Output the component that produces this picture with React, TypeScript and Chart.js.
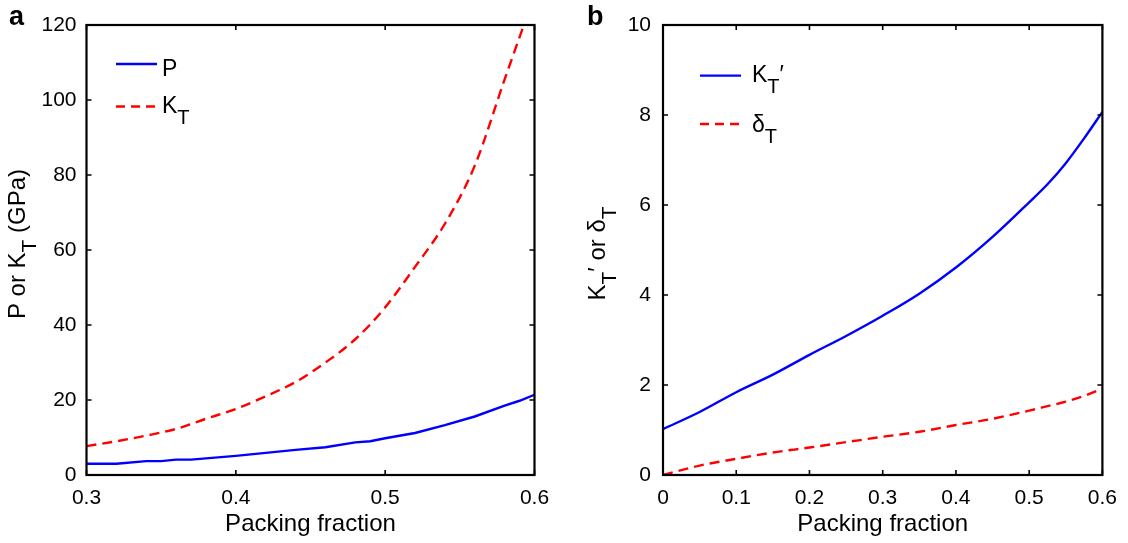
import React, { useEffect, useRef } from "react";
import { Chart, registerables } from "chart.js";

Chart.register(...registerables);

const FONT = "'Liberation Sans', Arial, Helvetica, sans-serif";

// ---------- Panel a data ----------
const packingP = [0.3, 0.32, 0.34, 0.35, 0.36, 0.37, 0.4, 0.42, 0.44, 0.46, 0.48, 0.49, 0.5, 0.52, 0.54, 0.56, 0.58, 0.59, 0.6];
const pressureP = [3.0, 3.0, 3.7, 3.7, 4.1, 4.1, 5.1, 5.9, 6.7, 7.4, 8.7, 9.0, 9.8, 11.2, 13.3, 15.6, 18.5, 19.8, 21.4];
const packingK = [0.3, 0.32, 0.34, 0.36, 0.38, 0.4, 0.42, 0.44, 0.46, 0.48, 0.5, 0.52, 0.54, 0.56, 0.58, 0.6];
const bulkKT = [7.7, 9.0, 10.5, 12.3, 15.0, 17.6, 21.0, 24.8, 30.0, 36.2, 44.7, 55.5, 67.0, 82.5, 105.5, 128];

// ---------- Panel b data ----------
const packingB = [0, 0.05, 0.1, 0.15, 0.2, 0.25, 0.3, 0.35, 0.4, 0.45, 0.5, 0.525, 0.55, 0.575, 0.6];
const kPrime = [1.02, 1.4, 1.84, 2.23, 2.67, 3.09, 3.54, 4.03, 4.61, 5.29, 6.06, 6.46, 6.93, 7.48, 8.07];
const deltaT = [0, 0.21, 0.36, 0.5, 0.61, 0.73, 0.85, 0.96, 1.11, 1.25, 1.43, 1.53, 1.63, 1.76, 1.92];

type Part = { t: string; sub?: boolean };

const legendA: { parts: Part[]; color: string; dash: number[] }[] = [
  { parts: [{ t: "P" }], color: "#0000ff", dash: [] },
  { parts: [{ t: "K" }, { t: "T", sub: true }], color: "#ff0000", dash: [9, 6] },
];
const legendB: { parts: Part[]; color: string; dash: number[] }[] = [
  { parts: [{ t: "K" }, { t: "T", sub: true }, { t: "\u2032" }], color: "#0000ff", dash: [] },
  { parts: [{ t: "\u03b4" }, { t: "T", sub: true }], color: "#ff0000", dash: [9, 6] },
];
const yTitleA: Part[] = [{ t: "P or K" }, { t: "T", sub: true }, { t: " (GPa)" }];
const yTitleB: Part[] = [{ t: "K" }, { t: "T", sub: true }, { t: "\u2032 or \u03b4" }, { t: "T", sub: true }];

const MAIN = 23;
const SUB = 20;
const SUBOFF = 11;

function richWidth(ctx: CanvasRenderingContext2D, parts: Part[], size: number, sub: number) {
  let w = 0;
  for (const p of parts) {
    ctx.font = `${p.sub ? sub : size}px ${FONT}`;
    w += ctx.measureText(p.t).width;
  }
  return w;
}

function drawRich(ctx: CanvasRenderingContext2D, parts: Part[], x: number, y: number, size: number, sub: number, off: number) {
  let cx = x;
  ctx.textBaseline = "alphabetic";
  ctx.textAlign = "left";
  for (const p of parts) {
    ctx.font = `${p.sub ? sub : size}px ${FONT}`;
    ctx.fillText(p.t, cx, p.sub ? y + off : y);
    cx += ctx.measureText(p.t).width;
  }
}

const decorPlugin = {
  id: "decor",
  afterDraw(chart: any, _args: any, o: any) {
    const ctx: CanvasRenderingContext2D = chart.ctx;
    const a = chart.chartArea;
    const ox = o.ox;
    ctx.save();
    ctx.strokeStyle = "#000";
    ctx.lineWidth = 2.2;
    ctx.setLineDash([]);
    ctx.strokeRect(a.left, a.top, a.right - a.left, a.bottom - a.top);
    const xs = chart.scales.x;
    const ys = chart.scales.y;
    const L = 5;
    ctx.lineWidth = 1.6;
    ctx.beginPath();
    xs.ticks.forEach((t: any) => {
      const px = xs.getPixelForValue(t.value);
      ctx.moveTo(px, a.bottom);
      ctx.lineTo(px, a.bottom - L);
      ctx.moveTo(px, a.top);
      ctx.lineTo(px, a.top + L);
    });
    ys.ticks.forEach((t: any) => {
      const py = ys.getPixelForValue(t.value);
      ctx.moveTo(a.left, py);
      ctx.lineTo(a.left + L, py);
      ctx.moveTo(a.right, py);
      ctx.lineTo(a.right - L, py);
    });
    ctx.stroke();

    // legend
    ctx.fillStyle = "#000";
    o.legend.forEach((e: any, i: number) => {
      const ly = o.legendY[i];
      ctx.strokeStyle = e.color;
      ctx.lineWidth = 2.3;
      ctx.setLineDash(e.dash);
      ctx.beginPath();
      ctx.moveTo(o.legendX1 - ox, ly);
      ctx.lineTo(o.legendX2 - ox, ly);
      ctx.stroke();
      ctx.setLineDash([]);
      drawRich(ctx, e.parts, o.legendTextX - ox, o.legendBase[i], MAIN, SUB, SUBOFF);
    });

    // y title (rotated)
    const w = richWidth(ctx, o.yTitle, 24, 21);
    ctx.save();
    ctx.translate(o.yTitleX - ox, o.yTitleY);
    ctx.rotate(-Math.PI / 2);
    drawRich(ctx, o.yTitle, -w / 2, 0, 24, 21, 11);
    ctx.restore();

    // panel letter
    ctx.font = `bold 27px ${FONT}`;
    ctx.textBaseline = "alphabetic";
    ctx.textAlign = "left";
    ctx.fillText(o.letter, o.letterX - ox, 25);
    ctx.restore();
  },
};

type PanelProps = {
  ox: number;
  width: number;
  area: { left: number; right: number; top: number; bottom: number };
  xMin: number;
  xMax: number;
  yMax: number;
  yStep: number;
  yPad: number;
  datasets: any[];
  decor: any;
};

function Panel(p: PanelProps) {
  const ref = useRef<HTMLCanvasElement | null>(null);
  useEffect(() => {
    if (!ref.current) return;
    const H = 543;
    const chart = new Chart(ref.current, {
      type: "line",
      data: { datasets: p.datasets },
      plugins: [decorPlugin],
      options: {
        animation: false,
        responsive: false,
        layout: {
          padding: { left: 0, top: p.area.top, right: p.width - (p.area.right - p.ox), bottom: 0 },
        },
        plugins: {
          legend: { display: false },
          tooltip: { enabled: false },
          decor: p.decor,
        } as any,
        elements: { point: { radius: 0 } },
        scales: {
          x: {
            type: "linear",
            min: p.xMin,
            max: p.xMax,
            grid: { display: false, drawTicks: false },
            border: { display: false },
            ticks: {
              stepSize: 0.1,
              autoSkip: false,
              maxRotation: 0,
              padding: 11,
              color: "#000",
              font: { size: 21, family: FONT },
              callback: (v: any) => String(Math.round(Number(v) * 10) / 10),
            },
            title: {
              display: true,
              text: "Packing fraction",
              color: "#000",
              font: { size: 24, family: FONT },
              padding: { top: 0, bottom: 4 },
            },
            afterFit: (s: any) => {
              s.height = H - p.area.bottom;
            },
          },
          y: {
            type: "linear",
            min: 0,
            max: p.yMax,
            grid: { display: false, drawTicks: false },
            border: { display: false },
            ticks: {
              stepSize: p.yStep,
              autoSkip: false,
              padding: p.yPad,
              color: "#000",
              font: { size: 21, family: FONT },
            },
            afterFit: (s: any) => {
              s.width = p.area.left - p.ox;
            },
          },
        },
      } as any,
    });
    return () => chart.destroy();
  }, []);
  return (
    <canvas
      ref={ref}
      width={p.width}
      height={543}
      style={{ position: "absolute", left: p.ox, top: 0, width: p.width, height: 543 }}
    />
  );
}

const toPts = (xs: number[], ys: number[]) => xs.map((x, i) => ({ x, y: ys[i] }));

export default function App() {
  const dsA = [
    {
      label: "P",
      data: toPts(packingP, pressureP),
      borderColor: "#0000ff",
      borderWidth: 2.4,
      tension: 0,
      pointRadius: 0,
    },
    {
      label: "K_T",
      data: toPts(packingK, bulkKT),
      borderColor: "#ff0000",
      borderWidth: 2.4,
      borderDash: [10, 6],
      cubicInterpolationMode: "monotone",
      pointRadius: 0,
    },
  ];
  const dsB = [
    {
      label: "K_T'",
      data: toPts(packingB, kPrime),
      borderColor: "#0000ff",
      borderWidth: 2.4,
      cubicInterpolationMode: "monotone",
      pointRadius: 0,
    },
    {
      label: "delta_T",
      data: toPts(packingB, deltaT),
      borderColor: "#ff0000",
      borderWidth: 2.4,
      borderDash: [10, 6],
      cubicInterpolationMode: "monotone",
      pointRadius: 0,
    },
  ];
  return (
    <div style={{ position: "fixed", left: 0, top: 0, width: 1128, height: 543, background: "#fff" }}>
      <Panel
        ox={0}
        width={564}
        area={{ left: 86.5, right: 534.5, top: 25, bottom: 475 }}
        xMin={0.3}
        xMax={0.6}
        yMax={120}
        yStep={20}
        yPad={10}
        datasets={dsA}
        decor={{
          ox: 0,
          legend: legendA,
          legendX1: 116,
          legendX2: 157,
          legendY: [64, 106.5],
          legendTextX: 162,
          legendBase: [76, 113.3],
          yTitle: yTitleA,
          yTitleX: 25,
          yTitleY: 244,
          letter: "a",
          letterX: 9,
        }}
      />
      <Panel
        ox={564}
        width={564}
        area={{ left: 663, right: 1112.5, top: 25, bottom: 475 }}
        xMin={0}
        xMax={0.6}
        yMax={10}
        yStep={2}
        yPad={12}
        datasets={dsB}
        decor={{
          ox: 564,
          legend: legendB,
          legendX1: 700,
          legendX2: 741,
          legendY: [75.7, 124],
          legendTextX: 752,
          legendBase: [81.7, 131.7],
          yTitle: yTitleB,
          yTitleX: 605,
          yTitleY: 253.5,
          letter: "b",
          letterX: 587,
        }}
      />
    </div>
  );
}
